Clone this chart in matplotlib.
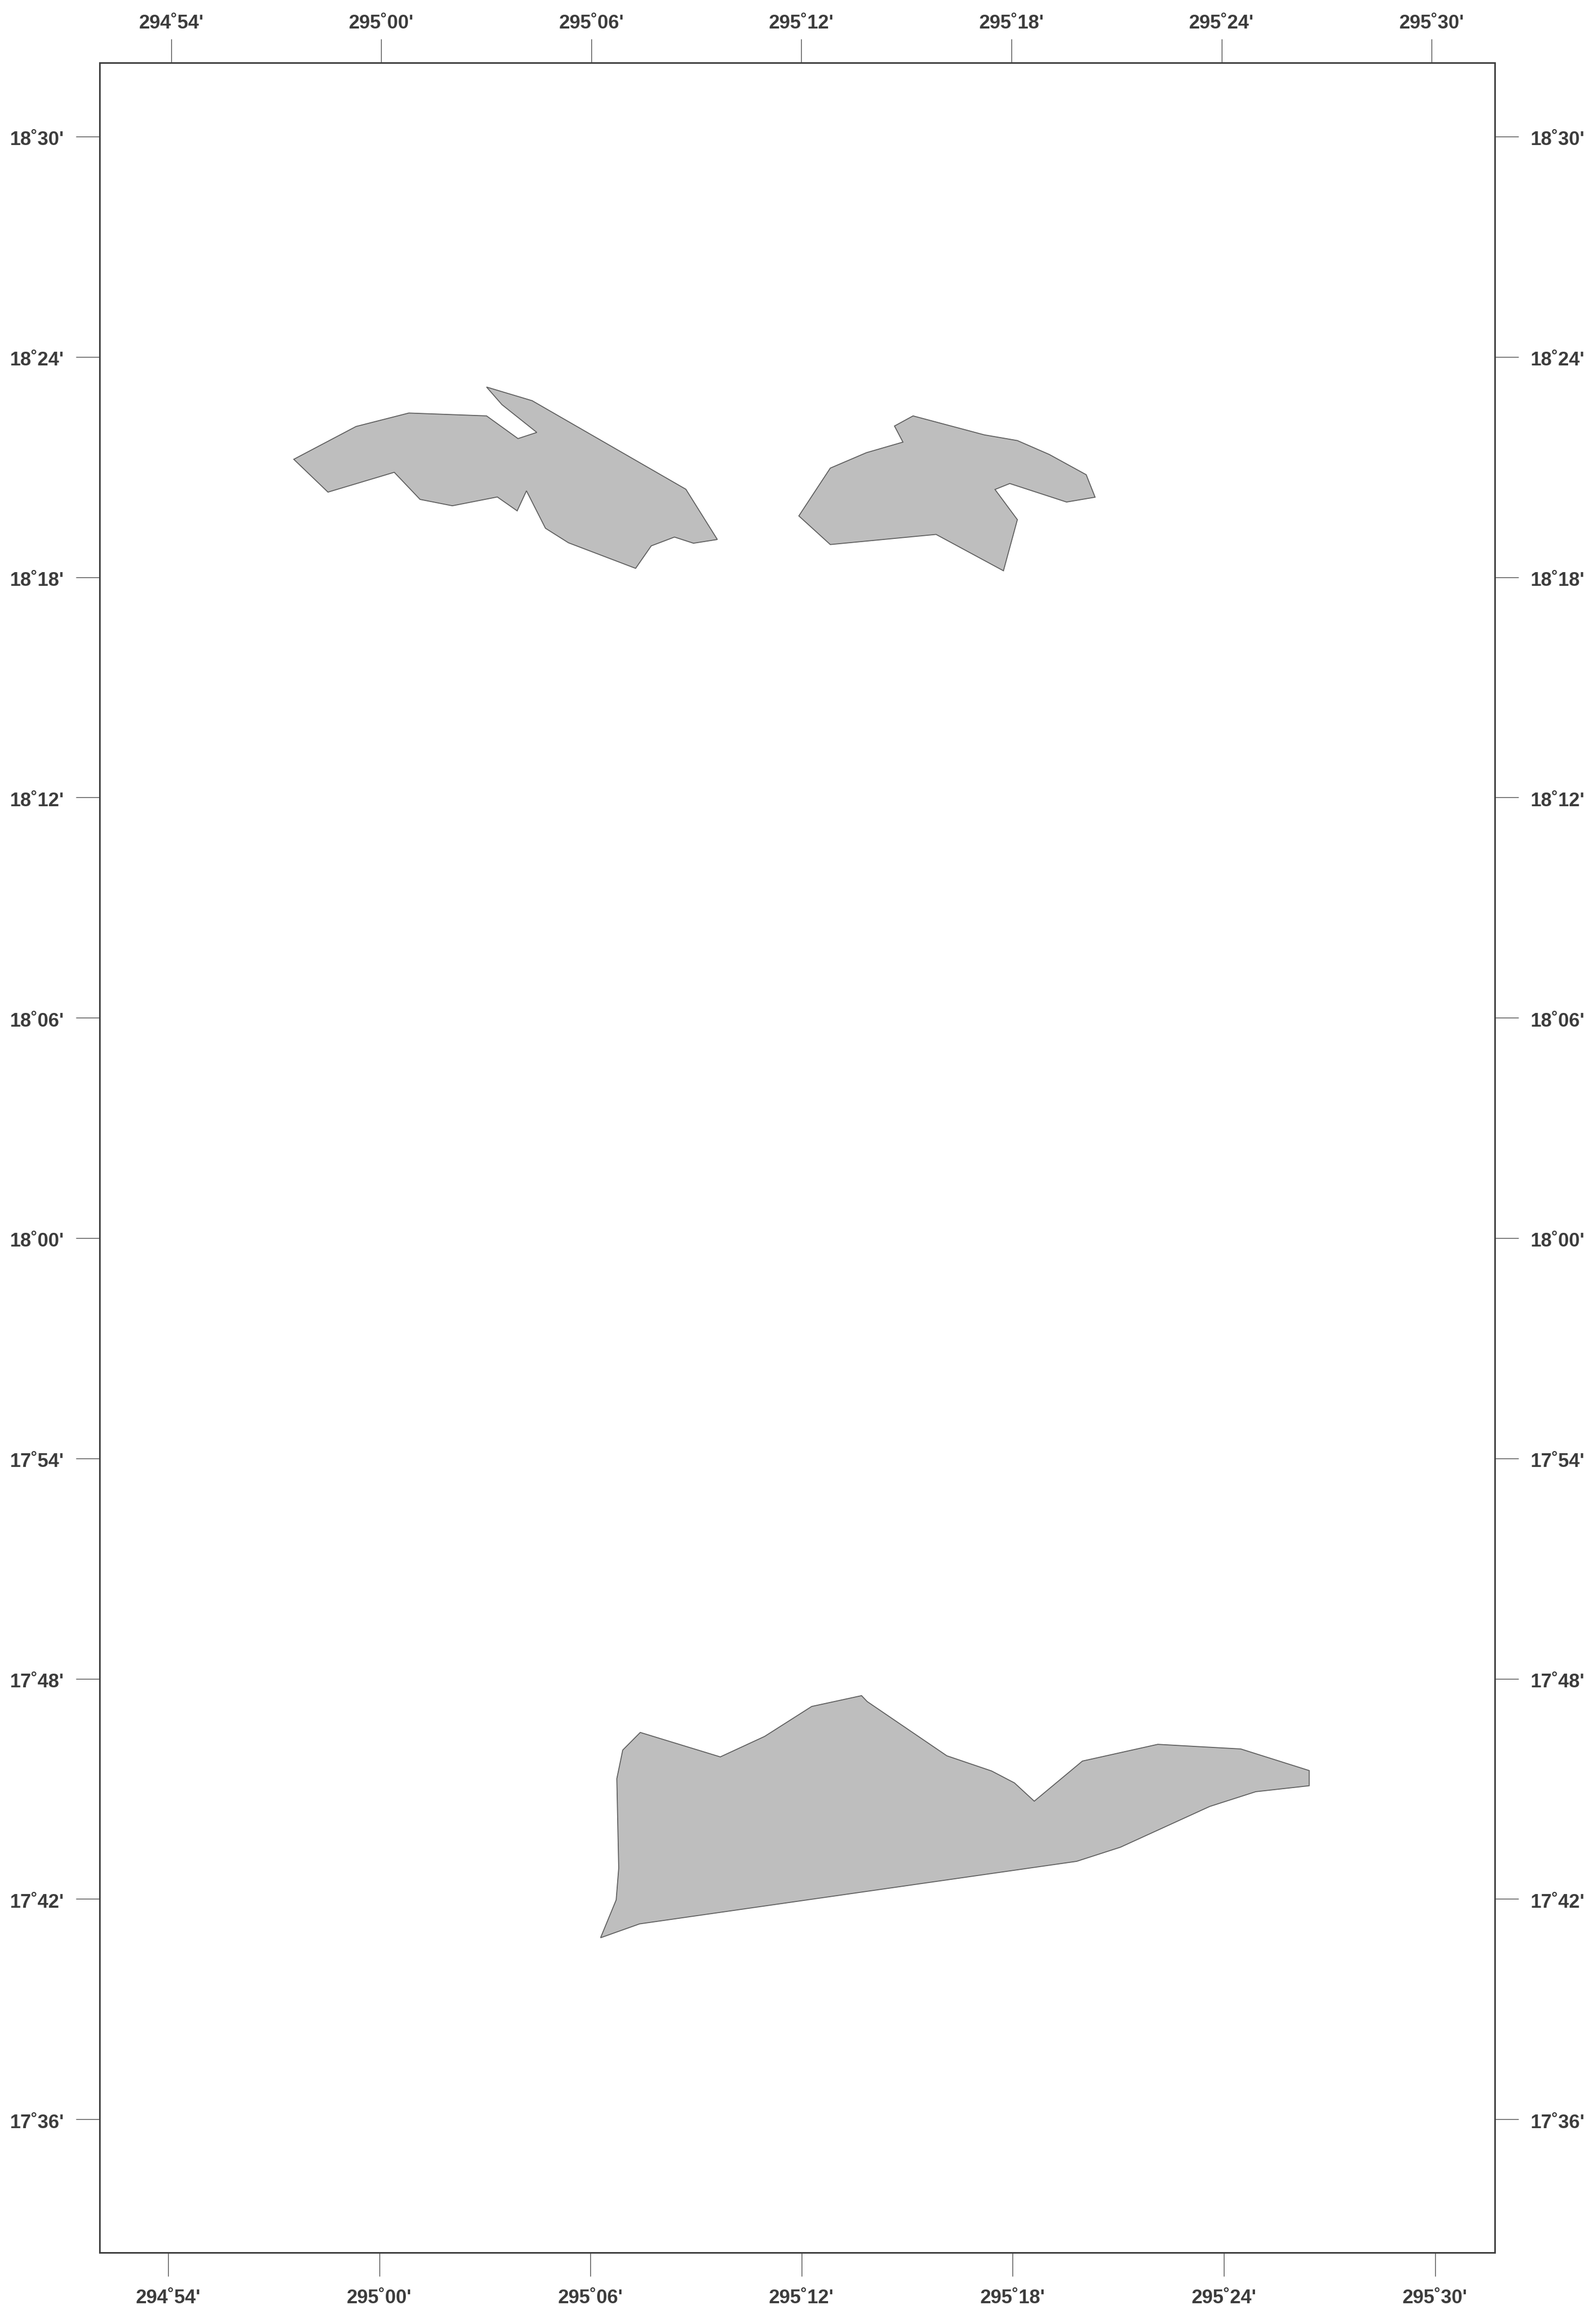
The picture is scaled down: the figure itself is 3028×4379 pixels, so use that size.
import matplotlib
matplotlib.use('Agg')
import matplotlib.pyplot as plt
from matplotlib.transforms import ScaledTranslation

plt.rcParams['font.family'] = ['Liberation Sans', 'DejaVu Sans']

# St Thomas / St John side (north-west)
west_lon = [294.9595, 294.9757, 295.0071, 295.0193, 295.0346, 295.0559, 295.0653, 295.0697,
            295.0787, 295.0896, 295.1214, 295.1288, 295.1398, 295.1488, 295.1601, 295.1452,
            295.0724, 295.0508, 295.0581, 295.0746, 295.0657, 295.0508, 295.0140, 294.9890]
west_lat = [18.3535, 18.3386, 18.3476, 18.3353, 18.3324, 18.3364, 18.3301, 18.3392,
            18.3222, 18.3156, 18.3040, 18.3142, 18.3182, 18.3154, 18.3171, 18.3399,
            18.3801, 18.3863, 18.3783, 18.3657, 18.3629, 18.3732, 18.3745, 18.3684]

east_lon = [295.1987, 295.2136, 295.2637, 295.2956, 295.3022, 295.2916, 295.2986, 295.3255, 295.3390,
            295.3348, 295.3173, 295.3022, 295.2865, 295.2528, 295.2440, 295.2480, 295.2307, 295.2136]
east_lat = [18.3278, 18.3148, 18.3194, 18.3029, 18.3261, 18.3398, 18.3425, 18.3341, 18.3363,
            18.3465, 18.3557, 18.3620, 18.3646, 18.3732, 18.3686, 18.3613, 18.3565, 18.3495]

south_lon = [295.1048, 295.1122, 295.1134, 295.1125, 295.1153, 295.1236, 295.1615, 295.1825, 295.2048,
             295.2284, 295.2311, 295.2688, 295.2900, 295.3008, 295.3102, 295.3330, 295.3687, 295.4080,
             295.4404, 295.4404, 295.4151, 295.3933, 295.3510, 295.3303, 295.1233]
south_lat = [17.6824, 17.6996, 17.7140, 17.7546, 17.7676, 17.7756, 17.7645, 17.7738, 17.7874,
             17.7923, 17.7896, 17.7650, 17.7581, 17.7527, 17.7444, 17.7626, 17.7702, 17.7681,
             17.7583, 17.7514, 17.7487, 17.7420, 17.7235, 17.7171, 17.6887]

lon_ticks = [294.9, 295.0, 295.1, 295.2, 295.3, 295.4, 295.5]
lon_labels = ["294˚54'", "295˚00'", "295˚06'", "295˚12'", "295˚18'", "295˚24'", "295˚30'"]
lat_ticks = [18.5, 18.4, 18.3, 18.2, 18.1, 18.0, 17.9, 17.8, 17.7, 17.6]
lat_labels = ["18˚30'", "18˚24'", "18˚18'", "18˚12'", "18˚06'",
              "18˚00'", "17˚54'", "17˚48'", "17˚42'", "17˚36'"]

# map is projected, so the top edge has a slightly different longitude scale than the bottom
bottom_xlim = (294.86755, 295.52831)
top_xlim = (294.8659, 295.5301)
ylim = (17.5395, 18.5335)

W, H = 3028, 4379
fig = plt.figure(figsize=(W / 100, H / 100), dpi=100, facecolor='white')
ax = fig.add_axes([189 / W, 1 - 4272 / H, (2836 - 189) / W, (4272 - 119) / H])

for lon, lat in [(west_lon, west_lat), (east_lon, east_lat), (south_lon, south_lat)]:
    ax.fill(lon, lat, facecolor='#bebebe', edgecolor='#5e5e5e', linewidth=1.3, joinstyle='miter')

ax.set_xlim(bottom_xlim)
ax.set_ylim(ylim)
ax.set_xticks(lon_ticks)
ax.set_xticklabels(lon_labels)
ax.set_yticks(lat_ticks)
ax.set_yticklabels(lat_labels)

ax_top = ax.twiny()
ax_top.set_xlim(top_xlim)
ax_top.set_xticks(lon_ticks)
ax_top.set_xticklabels(lon_labels)

tick_style = dict(direction='out', labelsize=26.5, labelcolor='#3c3c3c', length=32.4, width=1.0, color='#444444')
ax.tick_params(axis='x', pad=17, **tick_style)
ax.tick_params(axis='y', left=True, right=True, labelleft=True, labelright=True, pad=16, **tick_style)
ax_top.tick_params(axis='x', pad=9, **tick_style)

for a in (ax, ax_top):
    for s in a.spines.values():
        s.set_linewidth(2.1)
        s.set_color('#3f3f3f')
    for lab in a.get_xticklabels() + a.get_yticklabels():
        lab.set_fontweight('bold')

# latitude labels sit a touch lower than matplotlib centres them
nudge = ScaledTranslation(0, -3 / 100, fig.dpi_scale_trans)
for tick in ax.yaxis.get_major_ticks():
    tick.label1.set_transform(tick.label1.get_transform() + nudge)
    tick.label2.set_transform(tick.label2.get_transform() + nudge)

fig.savefig('out.png', dpi=100, facecolor='white')
